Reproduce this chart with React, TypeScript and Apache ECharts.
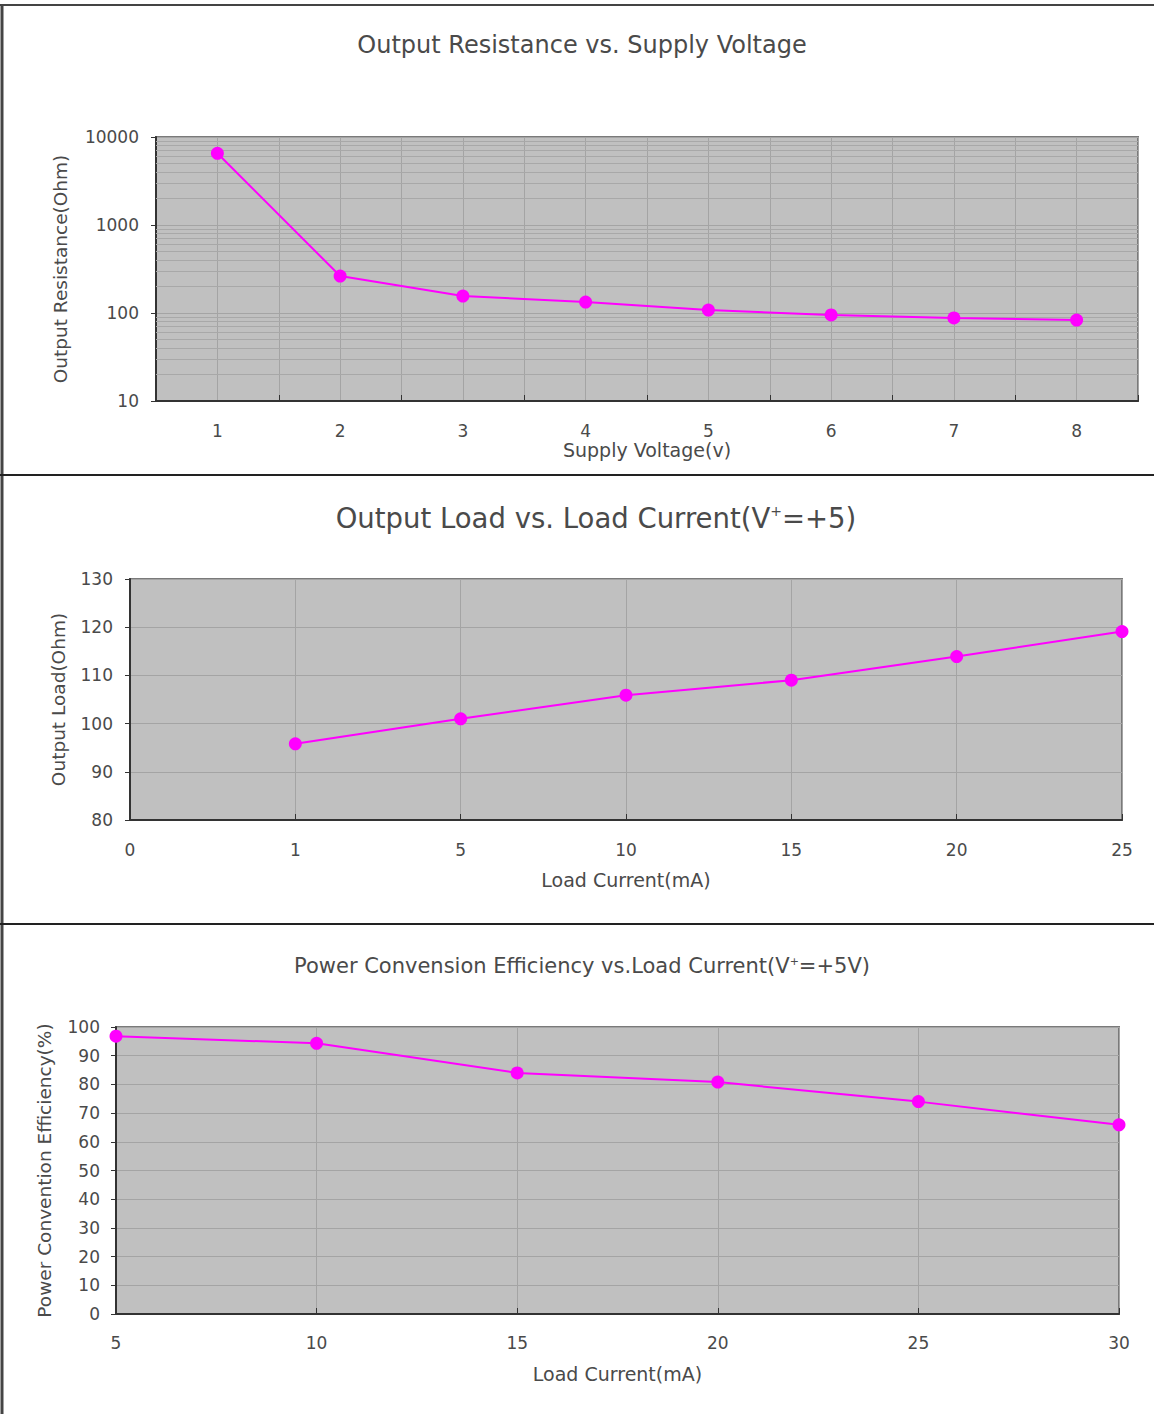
import React, { useEffect, useRef } from "react";
import * as echarts from "echarts";

const voltageCats = ["1", "2", "3", "4", "5", "6", "7", "8"];
const resistance = [6530, 263, 156, 133, 108, 95, 88, 83];
const resistanceMinor = [20, 30, 40, 50, 60, 70, 80, 90, 200, 300, 400, 500, 600, 700, 800, 900, 2000, 3000, 4000, 5000, 6000, 7000, 8000, 9000];

const loadCats = ["0", "1", "5", "10", "15", "20", "25"];
const outputLoad: (number | string)[] = ["-", 95.8, 101, 105.9, 109, 113.9, 119.1];

const effCurrent = [5, 10, 15, 20, 25, 30];
const efficiency = [96.8, 94.3, 84, 80.8, 74.0, 65.9];

const FONT = "DejaVu Sans";
const TXT = "#4a4a4a";
const MAG = "#ff00ff";

export default function App() {
  const ref = useRef<HTMLDivElement>(null);
  useEffect(() => {
    if (!ref.current) return;
    const chart = echarts.init(ref.current, null, { renderer: "svg" });
    const axisLbl = { color: TXT, fontFamily: FONT, fontSize: 17 };
    const xNameStyle = { color: TXT, fontFamily: FONT, fontSize: 19 };
    const yNameStyle = { color: TXT, fontFamily: FONT, fontSize: 18.5 };
    const axisLine = { show: true, lineStyle: { color: "#333", width: 2 } };
    const split = { show: true, lineStyle: { color: "#a4a4a4", width: 1 } };
    const gridBase = { show: true, backgroundColor: "#c0c0c0", borderColor: "#7a7a7a", borderWidth: 2 };
    const lineSeries = {
      type: "line",
      symbol: "circle",
      symbolSize: 13,
      lineStyle: { color: MAG, width: 2 },
      itemStyle: { color: MAG },
      z: 5,
    };
    const titleFont = (size: number) => ({ fontFamily: FONT, fontSize: size, fill: TXT });

    chart.setOption({
      animation: false,
      graphic: [
        { type: "line", shape: { x1: 0, y1: 5, x2: 1154, y2: 5 }, style: { stroke: "#444", lineWidth: 2 } },
        { type: "line", shape: { x1: 2, y1: 5, x2: 2, y2: 1414 }, style: { stroke: "#444", lineWidth: 3 } },
        { type: "line", shape: { x1: 0, y1: 475, x2: 1154, y2: 475 }, style: { stroke: "#222", lineWidth: 2 } },
        { type: "line", shape: { x1: 0, y1: 924, x2: 1154, y2: 924 }, style: { stroke: "#222", lineWidth: 2 } },
        {
          type: "text",
          x: 582,
          y: 45,
          style: { text: "Output Resistance vs. Supply Voltage", align: "center", verticalAlign: "middle", ...titleFont(24) },
        },
        {
          type: "text",
          x: 596,
          y: 518,
          style: {
            text: "{a|Output Load vs. Load Current(V}{s|+}{a|=+5)}",
            align: "center",
            verticalAlign: "middle",
            ...titleFont(27.5),
            rich: {
              a: { fontFamily: FONT, fontSize: 27.5, color: TXT },
              s: { fontFamily: FONT, fontSize: 14, color: TXT, verticalAlign: "top", padding: [0, 0, 10, 0] },
            },
          },
        },
        {
          type: "text",
          x: 582,
          y: 966,
          style: {
            text: "{a|Power Convension Efficiency vs.Load Current(V}{s|+}{a|=+5V)}",
            align: "center",
            verticalAlign: "middle",
            ...titleFont(21),
            rich: {
              a: { fontFamily: FONT, fontSize: 21, color: TXT },
              s: { fontFamily: FONT, fontSize: 11, color: TXT, verticalAlign: "top", padding: [0, 0, 8, 0] },
            },
          },
        },
      ],
      grid: [
        { left: 156, top: 137, width: 982, height: 264, ...gridBase },
        { left: 130, top: 579, width: 992, height: 241, ...gridBase },
        { left: 116, top: 1027, width: 1003, height: 287, ...gridBase },
      ],
      xAxis: [
        {
          gridIndex: 0,
          type: "category",
          position: "bottom",
          data: voltageCats,
          boundaryGap: true,
          axisLine,
          axisTick: { show: true, inside: true, length: 6, lineStyle: { color: "#333" } },
          axisLabel: { ...axisLbl, margin: 21 },
          splitLine: { show: false },
          name: "Supply Voltage(v)",
          nameLocation: "middle",
          nameGap: 39,
          nameTextStyle: xNameStyle,
          z: 3,
        },
        {
          gridIndex: 0,
          type: "value",
          position: "bottom",
          min: 0.5,
          max: 8.5,
          interval: 0.5,
          axisLine: { show: false },
          axisTick: { show: false },
          axisLabel: { show: false },
          splitLine: split,
        },
        {
          gridIndex: 1,
          type: "category",
          data: loadCats,
          boundaryGap: false,
          axisLine,
          axisTick: { show: true, inside: true, length: 6, lineStyle: { color: "#333" } },
          axisLabel: { ...axisLbl, margin: 21 },
          splitLine: split,
          name: "Load Current(mA)",
          nameLocation: "middle",
          nameGap: 50,
          nameTextStyle: xNameStyle,
        },
        {
          gridIndex: 2,
          type: "value",
          min: 5,
          max: 30,
          interval: 5,
          axisLine,
          axisTick: { show: true, inside: true, length: 6, lineStyle: { color: "#333" } },
          axisLabel: { ...axisLbl, margin: 20 },
          splitLine: split,
          name: "Load Current(mA)",
          nameLocation: "middle",
          nameGap: 50,
          nameTextStyle: xNameStyle,
        },
      ],
      yAxis: [
        {
          gridIndex: 0,
          type: "log",
          logBase: 10,
          min: 10,
          max: 10000,
          axisLine,
          axisTick: { show: true, inside: false, length: 5, lineStyle: { color: "#333" } },
          axisLabel: { ...axisLbl, margin: 17, formatter: (v: number) => String(Math.round(v)) },
          splitLine: split,
          name: "Output Resistance(Ohm)",
          nameLocation: "middle",
          nameGap: 86,
          nameTextStyle: yNameStyle,
        },
        {
          gridIndex: 1,
          type: "value",
          min: 80,
          max: 130,
          interval: 10,
          axisLine,
          axisTick: { show: true, inside: false, length: 5, lineStyle: { color: "#333" } },
          axisLabel: { ...axisLbl, margin: 17 },
          splitLine: split,
          name: "Output Load(Ohm)",
          nameLocation: "middle",
          nameGap: 62,
          nameTextStyle: yNameStyle,
        },
        {
          gridIndex: 2,
          type: "value",
          min: 0,
          max: 100,
          interval: 10,
          axisLine,
          axisTick: { show: true, inside: false, length: 5, lineStyle: { color: "#333" } },
          axisLabel: { ...axisLbl, margin: 16 },
          splitLine: split,
          name: "Power Convention Efficiency(%)",
          nameLocation: "middle",
          nameGap: 62,
          nameTextStyle: yNameStyle,
        },
      ],
      series: [
        {
          type: "line",
          xAxisIndex: 0,
          yAxisIndex: 0,
          data: [],
          silent: true,
          z: 1,
          markLine: {
            silent: true,
            symbol: ["none", "none"],
            label: { show: false },
            lineStyle: { color: "#a8a8a8", width: 1, type: "solid" },
            data: resistanceMinor.map((v) => ({ yAxis: v })),
          },
        },
        { ...lineSeries, xAxisIndex: 0, yAxisIndex: 0, data: resistance },
        { ...lineSeries, xAxisIndex: 2, yAxisIndex: 1, data: outputLoad },
        {
          ...lineSeries,
          xAxisIndex: 3,
          yAxisIndex: 2,
          data: effCurrent.map((x, i) => [x, efficiency[i]]),
        },
      ],
    });
    return () => chart.dispose();
  }, []);
  return <div ref={ref} style={{ position: "absolute", left: 0, top: 0, width: 1154, height: 1414 }} />;
}
